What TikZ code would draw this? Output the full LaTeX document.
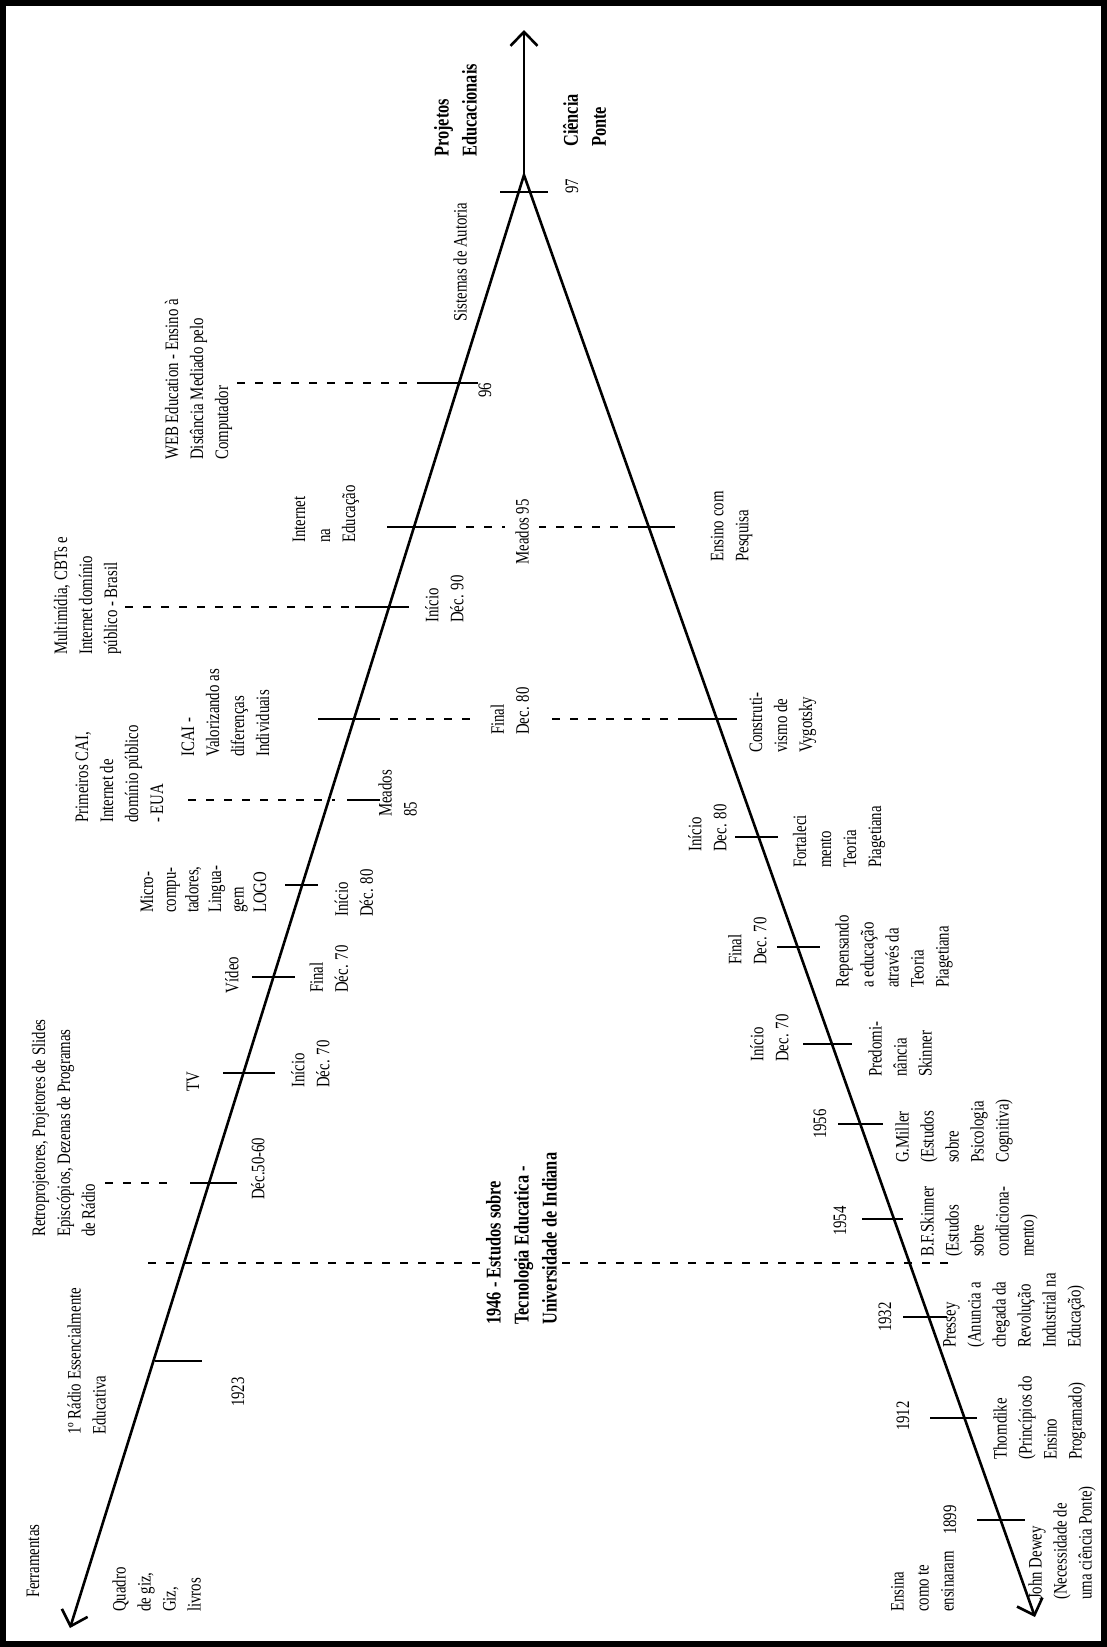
\documentclass[tikz,border=0pt]{standalone}
\usepackage{fontspec}
\setmainfont{Liberation Serif}[FakeStretch=0.78]
\usetikzlibrary{arrows.meta}

\begin{document}
\begin{tikzpicture}[x=1pt,y=1pt,
  axis/.style={line width=2.6pt,-{Straight Barb[length=14pt,width=27pt]}},
  tick mark/.style={line width=1.8pt},
  guide/.style={line width=1.4pt,dash pattern=on 8pt off 10pt},
  main label/.style={rotate=90,inner sep=0pt,align=left,font=\fontsize{19}{25}\selectfont},
  bold label/.style={main label,font=\fontsize{21}{28}\selectfont\bfseries},
  gap label/.style={fill=white,inner ysep=#1},
  gap label/.default=12pt]

  \useasboundingbox (0,0) rectangle (1107,-1647);
  \draw[line width=6pt] (3,-3) rectangle (1104,-1644);

  % the two time lines
  \coordinate (apex) at (524,-175);
  \coordinate (top) at (524,-30);
  \coordinate (leftend) at (70,-1628);
  \coordinate (rightend) at (1035,-1617);
  \draw[line width=2.6pt,{Straight Barb[length=14pt,width=27pt]}-{Straight Barb[length=14pt,width=27pt]}]
    (leftend) -- (apex) -- (rightend);
  \draw[axis] (apex) -- (top);

  % ticks
  \foreach \n/\y/\a/\b in {t97/192/500/548, t96/383/423/478, tedu/527/387/448,
      tpesq/527/628/675, tmult/607/355/409, ticai/719/318/372, tvyg/719/682/737,
      tcai/800/347/380, tlogo/885/285/318, tvideo/977/252/295, ttv/1073/223/275,
      tretro/1183/190/237, tradio/1361/155/202, tpiag/837/735/778,
      trepens/947/777/820, tpred/1044/803/852, tmiller/1124/838/883,
      tskinner/1219/862/903, tpressey/1317/903/947, tthorn/1418/930/977,
      tdewey/1520/977/1025}{
    \coordinate (\n a) at (\a,-\y);
    \coordinate (\n b) at (\b,-\y);
    \draw[tick mark] (\n a) -- (\n b);
  }

  % dashed guides
  \coordinate (g96) at (237,-383);
  \coordinate (gmult) at (125,-607);
  \coordinate (gcai) at (188,-800);
  \coordinate (gcaiend) at (335,-800);
  \coordinate (gretro) at (105,-1183);
  \coordinate (gretroend) at (172,-1183);
  \coordinate (g46a) at (148,-1263);
  \coordinate (g46b) at (948,-1263);
  \draw[guide] (g96) -- (t96a);
  \draw[guide] (tedub) -- (tpesqa);
  \draw[guide] (gmult) -- (tmulta);
  \draw[guide] (ticaib) -- (tvyga);
  \draw[guide] (gcai) -- (gcaiend);
  \draw[guide] (gretro) -- (gretroend);
  \draw[guide] (g46a) -- (g46b);

  % top
  \node[bold label,anchor=west] (projetos) at (455.5,-157) {Projetos\\Educacionais};
  \node[bold label,anchor=west] (ciencia) at (584.5,-147) {Ciência\\Ponte};
  \node[main label] (l97) at (572,-186) {97};
  \node[main label,anchor=west] (autoria) at (460,-322) {Sistemas de Autoria};
  \node[main label] (l96) at (485,-390) {96};
  \node[main label,anchor=west] (web) at (198.5,-460) {WEB Education - Ensino à\\Distância Mediado pelo\\Computador};
  \node[main label,anchor=west] (internet) at (326,-543) {Internet\\na\\Educação};
  \node[main label,gap label=10pt] (meados95) at (522,-532) {Meados 95};
  \node[main label,anchor=west] (pesquisa) at (731.5,-562) {Ensino com\\Pesquisa};
  \node[main label,anchor=west] (ini90) at (444.5,-623) {Início\\Déc. 90};
  \node[main label,anchor=west] (multimidia) at (87.5,-655) {Multimídia, CBTs e\\Internet domínio\\público - Brasil};
  \node[main label,anchor=west] (icai) at (225.5,-757) {ICAI -\\Valorizando as\\diferenças\\Individuais};
  \node[main label,anchor=west,gap label=14pt] (fin80) at (510,-735) {Final\\Dec. 80};
  \node[main label,anchor=west] (vygotsky) at (783,-753) {Construti-\\vismo de\\Vygotsky};

  % left time line
  \node[main label,anchor=west] (meados85) at (397.5,-817) {Meados\\85};
  \node[main label,anchor=west] (cai) at (119.5,-823) {Primeiros CAI,\\Internet de\\domínio público\\- EUA};
  \node[main label,anchor=west] (ini80l) at (354,-917) {Início\\Déc. 80};
  \node[main label,anchor=west,font=\fontsize{19}{22.6}\selectfont] (logo) at (203.5,-913) {Micro-\\compu-\\tadores,\\Lingua-\\gem\\LOGO};
  \node[main label] (video) at (232,-975) {Vídeo};
  \node[main label,anchor=west] (fin70l) at (329,-993) {Final\\Déc. 70};
  \node[main label] (tv) at (193,-1082) {TV};
  \node[main label,anchor=west] (ini70l) at (310.5,-1088) {Início\\Déc. 70};
  \node[main label,anchor=west] (dec5060) at (258,-1200) {Déc.50-60};
  \node[main label,anchor=west] (retro) at (63.5,-1237) {Retroprojetores, Projetores de Slides\\Episcópios, Dezenas de Programas\\de Rádio};
  \node[bold label,anchor=west,gap label=3pt] (estudos) at (521.5,-1325) {1946 - Estudos sobre\\Tecnologia Educatica -\\Universidade de Indiana};
  \node[main label] (l1923) at (238,-1392) {1923};
  \node[main label,anchor=west] (radio) at (86.5,-1435) {1º Rádio Essencialmente\\Educativa};
  \node[main label,anchor=west] (ferramentas) at (33,-1598) {Ferramentas};
  \node[main label,anchor=west] (quadro) at (156.5,-1612) {Quadro\\de giz,\\Giz,\\livros};

  % right time line
  \node[main label,anchor=west] (ini80r) at (707.5,-852) {Início\\Dec. 80};
  \node[main label,anchor=west] (fortaleci) at (839,-868) {Fortaleci\\mento\\Teoria\\Piagetiana};
  \node[main label,anchor=west] (fin70r) at (747.5,-965) {Final\\Dec. 70};
  \node[main label,anchor=west] (repensando) at (894,-988) {Repensando\\a educação\\através da\\Teoria\\Piagetiana};
  \node[main label,anchor=west] (ini70r) at (769.5,-1062) {Início\\Dec. 70};
  \node[main label,anchor=west] (predominancia) at (900,-1077) {Predomi-\\nância\\Skinner};
  \node[main label] (l1956) at (820,-1124) {1956};
  \node[main label,anchor=west] (miller) at (954,-1163) {G.Miller\\(Estudos\\sobre\\Psicologia\\Cognitiva)};
  \node[main label] (l1954) at (840,-1221) {1954};
  \node[main label,anchor=west] (skinner) at (979,-1257) {B.F.Skinner\\(Estudos\\sobre\\condiciona-\\mento)};
  \node[main label] (l1932) at (885,-1317) {1932};
  \node[main label,anchor=west] (pressey) at (1014,-1348) {Pressey\\(Anuncia a\\chegada da\\Revolução\\Industrial na\\Educação)};
  \node[main label] (l1912) at (903,-1416) {1912};
  \node[main label,anchor=west] (thorndike) at (1039.5,-1460) {Thorndike\\(Princípios do\\Ensino\\Programado)};
  \node[main label] (l1899) at (950,-1520) {1899};
  \node[main label,anchor=west] (dewey) at (1062,-1600) {John Dewey\\(Necessidade de\\uma ciência Ponte)};
  \node[main label,anchor=west] (ensina) at (922.5,-1612) {Ensina\\como te\\ensinaram};
\end{tikzpicture}
\end{document}
